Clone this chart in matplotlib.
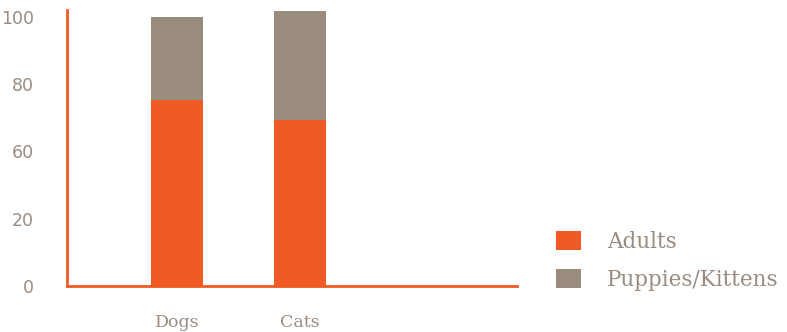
import matplotlib
matplotlib.use("Agg")
import matplotlib.pyplot as plt

# data
categories = ["Dogs", "Cats"]
adults = [69, 61.5]
young = [31, 40.5]
series_names = ["Adults", "Puppies/Kittens"]
tick_values = [0, 25, 50, 75, 100]
tick_labels = ["0", "20", "60", "80", "100"]

ORANGE = "#f05a24"
GREY = "#998b7d"
TEXT = "#9a8c80"

fig = plt.figure(figsize=(7.87, 3.32), dpi=100)
ax = fig.add_axes([67 / 787, 46 / 332, 450 / 787, 276 / 332])

x = range(len(categories))
ax.bar(x, adults, width=0.42, color=ORANGE, label=series_names[0])
ax.bar(x, young, width=0.42, bottom=adults, color=GREY, label=series_names[1])

ax.set_xlim(-0.894, 2.764)
ax.set_ylim(0, 102.5)

for s in ["top", "right"]:
    ax.spines[s].set_visible(False)
for s in ["left", "bottom"]:
    ax.spines[s].set_color(ORANGE)
    ax.spines[s].set_linewidth(2)

ax.set_yticks(tick_values)
ax.set_yticklabels(tick_labels, fontsize=12.5, color=TEXT, family="DejaVu Sans")
ax.set_xticks(list(x))
ax.set_xticklabels(categories, fontsize=12.5, color=TEXT, family="DejaVu Serif")
ax.tick_params(axis="y", length=0, pad=24)
ax.tick_params(axis="x", length=0, pad=20)

fig.legend(loc="center left", bbox_to_anchor=(537 / 787, 71 / 332), frameon=False,
           prop={"family": "DejaVu Serif", "size": 15.5}, labelcolor=TEXT,
           handlelength=1.16, handleheight=0.98, handletextpad=1.2, labelspacing=0.72)

fig.savefig("out.png", dpi=100)
